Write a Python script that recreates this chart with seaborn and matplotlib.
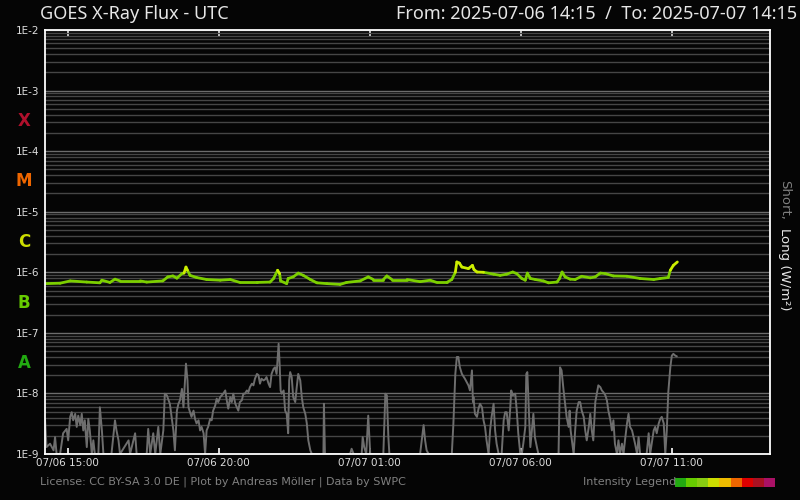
import math
import pandas as pd
import matplotlib
matplotlib.use("Agg")
import matplotlib.pyplot as plt
import matplotlib.dates as mdates
from matplotlib.patches import Rectangle
from matplotlib.ticker import LogLocator, FuncFormatter, NullFormatter
import seaborn as sns

# Time window (UTC) and readings, minutes after start
start = pd.Timestamp("2025-07-06 14:15")
end = pd.Timestamp("2025-07-07 14:15")

# Long channel (1-8 A), W/m2
long_min = [0, 30, 50, 83, 109, 113, 129, 139, 149, 189,
            202, 234, 244, 254, 262, 272, 276, 280, 283, 288,
            301, 321, 348, 368, 387, 421, 447, 454, 462, 466,
            468, 480, 483, 493, 503, 513, 527, 540, 560, 586,
            599, 626, 642, 652, 672, 679, 689, 719, 745, 765,
            778, 798, 808, 815, 818, 823, 828, 841, 849, 852,
            858, 871, 891, 904, 917, 929, 937, 947, 954, 958,
            964, 974, 990, 1000, 1017, 1022, 1027, 1033, 1043, 1053,
            1066, 1083, 1093, 1103, 1113, 1129, 1156, 1182, 1209, 1222,
            1238, 1242, 1248, 1256]
long_flux = [6.5e-7, 6.6e-7, 7.2e-7, 6.9e-7, 6.7e-7, 7.4e-7, 6.8e-7, 7.7e-7, 7.2e-7, 7.2e-7,
             6.9e-7, 7.2e-7, 8.4e-7, 8.7e-7, 8.0e-7, 9.5e-7, 9.7e-7, 1.22e-6, 1.08e-6, 8.9e-7,
             8.2e-7, 7.6e-7, 7.4e-7, 7.6e-7, 6.8e-7, 6.8e-7, 6.9e-7, 7.9e-7, 1.08e-6, 9.5e-7,
             7.2e-7, 6.5e-7, 7.9e-7, 8.4e-7, 9.7e-7, 8.9e-7, 7.6e-7, 6.7e-7, 6.5e-7, 6.3e-7,
             6.8e-7, 7.2e-7, 8.4e-7, 7.6e-7, 7.6e-7, 8.7e-7, 7.6e-7, 7.6e-7, 7.0e-7, 7.4e-7,
             6.8e-7, 6.8e-7, 7.6e-7, 1.0e-6, 1.48e-6, 1.42e-6, 1.22e-6, 1.15e-6, 1.30e-6, 1.11e-6,
             1.01e-6, 1.0e-6, 9.3e-7, 8.9e-7, 9.3e-7, 1.01e-6, 9.5e-7, 7.9e-7, 7.4e-7, 9.7e-7,
             7.9e-7, 7.6e-7, 7.2e-7, 6.7e-7, 6.9e-7, 7.9e-7, 1.01e-6, 8.4e-7, 7.7e-7, 7.6e-7,
             8.6e-7, 8.1e-7, 8.4e-7, 9.7e-7, 9.5e-7, 8.7e-7, 8.6e-7, 7.9e-7, 7.6e-7, 7.9e-7,
             8.2e-7, 1.08e-6, 1.30e-6, 1.48e-6]

# Short channel (0.5-4 A), W/m2 (1e-9 = floor)
short_min = [0, 3, 10, 17, 20, 23, 30, 36, 43, 46,
             50, 53, 56, 60, 63, 66, 70, 73, 76, 79,
             83, 86, 89, 93, 96, 99, 106, 109, 113, 116,
             132, 139, 142, 146, 149, 166, 169, 179, 182, 202,
             205, 209, 215, 219, 225, 229, 235, 238, 242, 248,
             255, 258, 262, 265, 268, 272, 275, 278, 280, 283,
             285, 288, 291, 295, 298, 301, 305, 308, 311, 315,
             318, 321, 324, 328, 331, 334, 338, 341, 344, 348,
             354, 358, 361, 364, 368, 371, 374, 378, 381, 384,
             387, 391, 394, 397, 401, 404, 407, 411, 414, 417,
             421, 424, 427, 430, 434, 437, 440, 444, 447, 450,
             454, 457, 460, 464, 466, 468, 470, 474, 477, 480,
             483, 485, 487, 490, 493, 497, 500, 503, 507, 510,
             513, 517, 520, 523, 527, 530, 553, 554, 556, 606,
             609, 613, 629, 631, 634, 638, 642, 646, 672, 676,
             679, 682, 684, 745, 752, 755, 758, 762, 808, 811,
             815, 818, 821, 824, 828, 834, 841, 844, 848, 850,
             851, 854, 858, 861, 864, 868, 871, 874, 877, 881,
             884, 887, 891, 894, 897, 901, 907, 911, 914, 917,
             921, 924, 926, 929, 934, 937, 940, 944, 947, 950,
             954, 956, 958, 960, 964, 967, 970, 973, 977, 980,
             1020, 1023, 1026, 1030, 1033, 1036, 1040, 1042, 1044, 1050,
             1053, 1056, 1060, 1063, 1066, 1070, 1073, 1076, 1080, 1083,
             1086, 1089, 1093, 1096, 1099, 1103, 1106, 1109, 1113, 1116,
             1119, 1123, 1126, 1129, 1132, 1136, 1139, 1142, 1146, 1149,
             1152, 1156, 1159, 1162, 1166, 1169, 1172, 1176, 1179, 1182,
             1195, 1199, 1202, 1209, 1212, 1215, 1219, 1222, 1225, 1229,
             1232, 1235, 1238, 1242, 1245, 1248, 1252, 1255]
short_flux = [3.8e-9, 1.3e-9, 1.48e-9, 1.15e-9, 1.9e-9, 1e-9, 1e-9, 2.2e-9, 2.6e-9, 1.68e-9,
              4.1e-9, 4.9e-9, 3.6e-9, 4.6e-9, 2.8e-9, 4.3e-9, 3.0e-9, 4.6e-9, 2.45e-9, 3.6e-9,
              1.3e-9, 3.8e-9, 2.45e-9, 1e-9, 1.68e-9, 1e-9, 1e-9, 5.9e-9, 2.45e-9, 1e-9,
              1e-9, 3.6e-9, 2.45e-9, 1.68e-9, 1e-9, 1.68e-9, 1e-9, 2.2e-9, 1e-9, 1e-9,
              2.6e-9, 1e-9, 2.2e-9, 1e-9, 2.8e-9, 1e-9, 2.45e-9, 9.9e-9, 9.3e-9, 6.75e-9,
              2.45e-9, 1.15e-9, 5.2e-9, 6.75e-9, 7.7e-9, 1.19e-8, 5.9e-9, 1.64e-8, 3.1e-8, 1.64e-8,
              5.9e-9, 4.9e-9, 4.1e-9, 5.2e-9, 3.8e-9, 3.2e-9, 3.6e-9, 2.45e-9, 2.8e-9, 2.2e-9,
              1e-9, 2.45e-9, 2.8e-9, 3.8e-9, 3.6e-9, 5.2e-9, 6.3e-9, 8.2e-9, 7.2e-9, 8.7e-9,
              9.9e-9, 1.12e-8, 7.7e-9, 5.6e-9, 8.7e-9, 7.2e-9, 9.9e-9, 6.75e-9, 5.9e-9, 5.2e-9,
              7.2e-9, 7.7e-9, 9.9e-9, 9.9e-9, 1.12e-8, 1.05e-8, 1.27e-8, 1.45e-8, 1.36e-8, 1.75e-8,
              2.1e-8, 2.0e-8, 1.45e-8, 1.75e-8, 1.64e-8, 1.7e-8, 1.86e-8, 1.45e-8, 1.27e-8, 2.1e-8,
              2.55e-8, 2.7e-8, 2.1e-8, 6.6e-8, 3.1e-8, 1.12e-8, 9.9e-9, 1.12e-8, 5.2e-9, 4.6e-9,
              2.2e-9, 1.64e-8, 2.25e-8, 1.86e-8, 8.7e-9, 7.2e-9, 1.27e-8, 2.1e-8, 1.64e-8, 8.7e-9,
              5.9e-9, 4.6e-9, 3.2e-9, 1.68e-9, 1.15e-9, 1e-9, 1e-9, 6.75e-9, 1e-9, 1e-9,
              1.22e-9, 1e-9, 1e-9, 1.9e-9, 1.3e-9, 1e-9, 4.3e-9, 1e-9, 1e-9, 9.9e-9,
              9.3e-9, 1.9e-9, 1e-9, 1e-9, 3.0e-9, 1.68e-9, 1.15e-9, 1e-9, 1e-9, 3.0e-9,
              2.1e-8, 4.0e-8, 4.0e-8, 2.7e-8, 2.1e-8, 1.75e-8, 1.36e-8, 1.12e-8, 2.4e-8, 7.2e-9,
              8.7e-9, 4.6e-9, 4.1e-9, 5.6e-9, 6.75e-9, 5.9e-9, 3.6e-9, 2.8e-9, 1.68e-9, 1e-9,
              2.45e-9, 4.1e-9, 6.75e-9, 2.45e-9, 1.48e-9, 1e-9, 1e-9, 3.6e-9, 4.9e-9, 4.9e-9,
              2.45e-9, 5.6e-9, 1.12e-8, 9.3e-9, 9.9e-9, 5.2e-9, 2.2e-9, 1e-9, 1e-9, 1.48e-9,
              2.8e-9, 2.1e-8, 2.25e-8, 8.7e-9, 1.3e-9, 2.45e-9, 4.6e-9, 1.9e-9, 1.3e-9, 1e-9,
              1e-9, 2.7e-8, 2.4e-8, 1.12e-8, 6.75e-9, 4.1e-9, 2.8e-9, 5.2e-9, 2.45e-9, 1e-9,
              2.45e-9, 5.2e-9, 7.2e-9, 7.2e-9, 5.2e-9, 4.1e-9, 2.45e-9, 1.68e-9, 2.8e-9, 4.6e-9,
              2.45e-9, 1.68e-9, 7.2e-9, 9.9e-9, 1.36e-8, 1.27e-8, 1.12e-8, 1.05e-8, 9.3e-9, 7.7e-9,
              5.2e-9, 3.6e-9, 2.45e-9, 3.6e-9, 1.48e-9, 1e-9, 1.68e-9, 1e-9, 1.48e-9, 1e-9,
              1.68e-9, 3.2e-9, 4.6e-9, 2.8e-9, 2.45e-9, 1.9e-9, 1.48e-9, 1e-9, 1.9e-9, 1e-9,
              1e-9, 2.2e-9, 1e-9, 2.45e-9, 2.8e-9, 2.2e-9, 3.2e-9, 3.8e-9, 4.1e-9, 3.2e-9,
              1e-9, 2.45e-9, 1.05e-8, 2.7e-8, 4.2e-8, 4.5e-8, 4.2e-8, 4.1e-8]

# Flare classes and intensity legend colours
flare_classes = ["X", "M", "C", "B", "A"]
flare_levels = [3.16e-4, 3.16e-5, 3.16e-6, 3.16e-7, 3.16e-8]
flare_colors = ["#b0102c", "#ee6600", "#ccdd00", "#66cc00", "#22aa11"]
legend_colors = ["#22aa11", "#66cc00", "#88cc11", "#ccdd00", "#eebb00",
                 "#ee6600", "#dd0000", "#aa1122", "#aa1166"]

bg = "#050505"
sns.set_theme(style="dark", rc={"axes.facecolor": bg, "figure.facecolor": bg,
                                "axes.edgecolor": "white", "text.color": "#e0e0e0",
                                "xtick.color": "#e0e0e0", "ytick.color": "#e0e0e0"})
plt.rcParams["font.family"] = ["DejaVu Sans"]

fig = plt.figure(figsize=(8, 5), dpi=100)
ax = fig.add_axes([45 / 800, 46 / 500, 725 / 800, 424 / 500])

# short channel
short_df = pd.DataFrame({"time": start + pd.to_timedelta(short_min, unit="min"),
                         "flux": short_flux})
sns.lineplot(data=short_df, x="time", y="flux", color="#6e6e6e", lw=1.4,
             estimator=None, sort=False, ax=ax)

# long channel, each step coloured by intensity
long_t = start + pd.to_timedelta(long_min, unit="min")
rows = []
for i in range(len(long_min) - 1):
    gm = math.sqrt(long_flux[i] * long_flux[i + 1])
    lvl = "C" if gm >= 1e-6 else "B"
    rows.append((long_t[i], long_flux[i], i, lvl))
    rows.append((long_t[i + 1], long_flux[i + 1], i, lvl))
long_df = pd.DataFrame(rows, columns=["time", "flux", "seg", "level"])
sns.lineplot(data=long_df, x="time", y="flux", hue="level", units="seg",
             estimator=None, palette={"B": "#7ccf00", "C": "#ccee00"},
             lw=2, legend=False, ax=ax)

ax.set_yscale("log")
ax.set_ylim(1e-9, 1e-2)
ax.set_xlim(start, end)
ax.set_xlabel("")
ax.set_ylabel("")

ax.yaxis.set_major_locator(LogLocator(base=10))
ax.yaxis.set_minor_locator(LogLocator(base=10, subs=range(2, 10)))
ax.yaxis.set_major_formatter(FuncFormatter(lambda v, p: "1E-%d" % round(-math.log10(v))))
ax.yaxis.set_minor_formatter(NullFormatter())
ax.grid(True, axis="y", which="major", color="#6c6c6c", lw=1)
ax.grid(True, axis="y", which="minor", color="#464646", lw=1)
ax.grid(False, axis="x")
ax.set_axisbelow(True)
ax.tick_params(axis="y", which="both", length=0, labelsize=7.5, pad=4, labelcolor="#dddddd")

ax.xaxis.set_major_locator(mdates.HourLocator(byhour=[1, 6, 11, 15, 20]))
ax.xaxis.set_major_formatter(mdates.DateFormatter("%m/%d %H:%M"))
ax.tick_params(axis="x", which="major", direction="in", length=4, width=1.2,
               color="white", top=True, bottom=True, labelsize=7.5, pad=3,
               labelcolor="#dddddd")
for s in ax.spines.values():
    s.set_color("white")
    s.set_linewidth(1.3)

# flare class letters
for cls, lvl, col in zip(flare_classes, flare_levels, flare_colors):
    ax.text(-0.029, lvl, cls, transform=ax.get_yaxis_transform(), color=col,
            fontsize=12, fontweight="bold", ha="center", va="center")

fig.text(40 / 800, 1 - 14 / 500, "GOES X-Ray Flux - UTC", fontsize=13,
         family="Noto Sans", color="#e6e6e6", ha="left", va="center")
fig.text(797 / 800, 1 - 14 / 500, "From: 2025-07-06 14:15  /  To: 2025-07-07 14:15",
         fontsize=13, family="Noto Sans", color="#e6e6e6", ha="right", va="center")

fig.text(785 / 800, 1 - 200 / 500, "Short,", rotation=270, fontsize=9.5,
         color="#808080", ha="center", va="center")
fig.text(785 / 800, 1 - 269 / 500, "Long (W/m²)", rotation=270, fontsize=9.5,
         color="#e6e6e6", ha="center", va="center")

fig.text(40 / 800, 1 - 482 / 500,
         "License: CC BY-SA 3.0 DE | Plot by Andreas Möller | Data by SWPC",
         fontsize=8, color="#808080", ha="left", va="center")
fig.text(676 / 800, 1 - 482 / 500, "Intensity Legend", fontsize=8,
         color="#808080", ha="right", va="center")
w = 100 / 9
for i, c in enumerate(legend_colors):
    fig.patches.append(Rectangle(((675 + i * w) / 800, 1 - 487 / 500), w / 800, 9 / 500,
                                 transform=fig.transFigure, color=c, lw=0))

fig.savefig("out.png", dpi=100, facecolor=bg)
